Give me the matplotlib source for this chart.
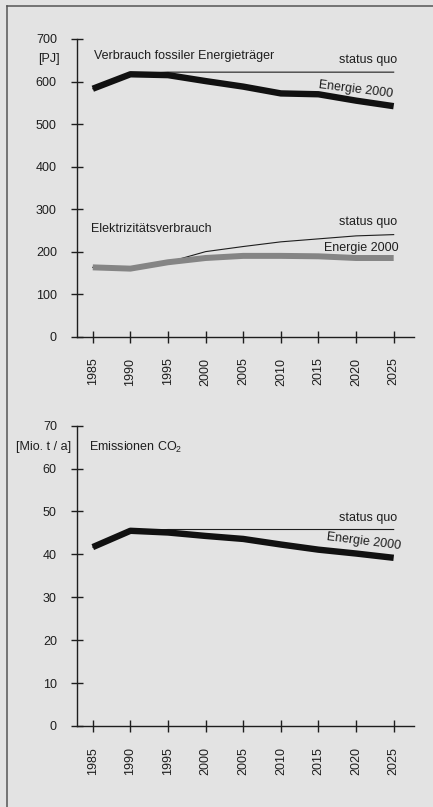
import matplotlib
matplotlib.use("Agg")
import matplotlib.pyplot as plt

plt.rcParams["font.family"] = ["Liberation Sans", "DejaVu Sans"]
plt.rcParams["mathtext.fontset"] = "custom"
plt.rcParams["mathtext.rm"] = "Liberation Sans"

years = [1985, 1990, 1995, 2000, 2005, 2010, 2015, 2020, 2025]

# fossil energy consumption [PJ]
fossil_sq = [583, 617, 622, 622, 622, 622, 622, 622, 622]
fossil_e2000 = [583, 617, 615, 601, 588, 572, 570, 555, 542]

# electricity consumption [PJ]
elec_sq = [163, 160, 175, 200, 212, 223, 230, 237, 240]
elec_e2000 = [163, 160, 175, 185, 190, 190, 189, 185, 185]

# CO2 emissions [Mio. t / a]
co2_sq = [41.7, 45.5, 45.8, 45.8, 45.8, 45.8, 45.8, 45.8, 45.8]
co2_e2000 = [41.7, 45.5, 45.1, 44.3, 43.6, 42.3, 41.1, 40.2, 39.2]

BG = "#e3e3e3"
INK = "#1e1e1e"
GREY = "#858585"
FS = 9

fig = plt.figure(figsize=(4.33, 8.07), dpi=100, facecolor=BG)

# scan frame: top and left edge
fig.add_artist(plt.Line2D([0.016, 1.0], [0.9926, 0.9926], transform=fig.transFigure, color="#555555", lw=1.1))
fig.add_artist(plt.Line2D([0.016, 0.016], [0.0, 0.9926], transform=fig.transFigure, color="#555555", lw=1.1))


def style_axes(ax, ymax, ystep):
    ax.set_facecolor("none")
    for s in ["top", "right"]:
        ax.spines[s].set_visible(False)
    for s in ["left", "bottom"]:
        ax.spines[s].set_color(INK)
        ax.spines[s].set_linewidth(1.0)
    ax.set_xlim(1982.9, 2027.7)
    ax.set_ylim(0, ymax)
    ax.set_xticks(years)
    ax.set_xticklabels([str(y) for y in years], rotation=90, fontsize=FS, color=INK)
    ax.set_yticks(range(0, ymax + 1, ystep))
    ax.set_yticklabels([str(v) for v in range(0, ymax + 1, ystep)], fontsize=FS, color=INK)
    ax.tick_params(axis="x", direction="inout", length=8, width=1.0, color=INK, pad=11)
    ax.tick_params(axis="y", direction="inout", length=9, width=1.0, color=INK, pad=10)


# ---------------- top: energy ----------------
ax1 = fig.add_axes([0.1778, 0.5828, 0.7783, 0.3689])
style_axes(ax1, 700, 100)
ax1.plot(years, fossil_sq, color=INK, lw=0.8, clip_on=False)
ax1.plot(years, fossil_e2000, color="#111111", lw=4.6, solid_capstyle="butt", clip_on=False)
ax1.plot(years, elec_sq, color=INK, lw=0.8, clip_on=False)
ax1.plot(years, elec_e2000, color=GREY, lw=4.3, solid_capstyle="butt", clip_on=False)

ax1.text(1980.65, 652, "[PJ]", ha="right", va="center", fontsize=FS, color=INK, clip_on=False)
ax1.text(1985.2, 659, "Verbrauch fossiler Energieträger", ha="left", va="center", fontsize=FS, color=INK)
ax1.text(2025.5, 650, "status quo", ha="right", va="center", fontsize=FS, color=INK)
ax1.text(2020.0, 581, "Energie 2000", ha="center", va="center", fontsize=FS, color=INK, rotation=-7)
ax1.text(1984.8, 254, "Elektrizitätsverbrauch", ha="left", va="center", fontsize=FS, color=INK)
ax1.text(2025.5, 270, "status quo", ha="right", va="center", fontsize=FS, color=INK)
ax1.text(2025.6, 209, "Energie 2000", ha="right", va="center", fontsize=FS, color=INK)

# ---------------- bottom: CO2 ----------------
ax2 = fig.add_axes([0.1778, 0.1004, 0.7783, 0.3721])
style_axes(ax2, 70, 10)
ax2.plot(years, co2_sq, color=INK, lw=0.8, clip_on=False)
ax2.plot(years, co2_e2000, color="#111111", lw=4.6, solid_capstyle="butt", clip_on=False)

ax2.text(1982.1, 65, "[Mio. t / a]", ha="right", va="center", fontsize=FS, color=INK, clip_on=False)
ax2.text(1984.5, 65, r"Emissionen CO$_\mathrm{2}$", ha="left", va="center", fontsize=FS, color=INK)
ax2.text(2025.5, 48.5, "status quo", ha="right", va="center", fontsize=FS, color=INK)
ax2.text(2021.0, 42.9, "Energie 2000", ha="center", va="center", fontsize=FS, color=INK, rotation=-7)

fig.savefig("out.png", dpi=100, facecolor=BG)
